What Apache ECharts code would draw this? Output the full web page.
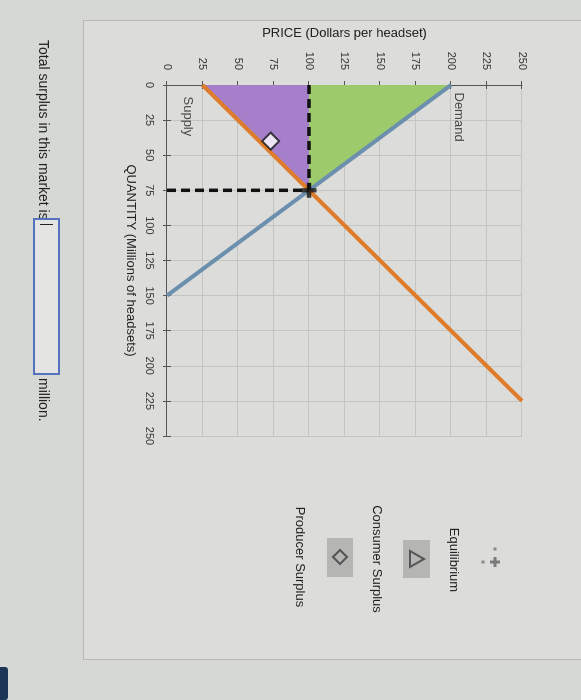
<!DOCTYPE html>
<html>
<head>
<meta charset="utf-8">
<script src="https://cdn.jsdelivr.net/npm/echarts@6/dist/echarts.min.js"></script>
<style>
  html, body { margin:0; padding:0; width:581px; height:700px; overflow:hidden; background:#d6d8d4; font-family:"Liberation Sans", Arial, sans-serif; }
  #wrap { position:absolute; left:0; top:0; width:700px; height:581px; transform-origin:0 0; transform:translate(581px,0) rotate(90deg); }
  #panel { position:absolute; left:20px; top:-10px; width:638px; height:506px; border:1px solid #b9bab6; background:#dcdddA; }
  #chart { position:absolute; left:0; top:0; width:700px; height:581px; }
  #q { position:absolute; left:40px; top:529px; font-size:14px; color:#222; white-space:nowrap; }
  #box { position:absolute; left:218px; top:521px; width:153px; height:23px; border:2px solid #5572c0; background:#e4e5e2; }
  #caret { position:absolute; left:4px; top:5px; width:1px; height:13px; background:#222; }
  #mil { position:absolute; left:378px; top:529px; font-size:14px; color:#222; }
  #tab { position:absolute; left:667px; top:573px; width:33px; height:8px; background:#1d3557; border-radius:3px 3px 0 0; }
</style>
</head>
<body>
<div id="wrap">
  <div id="panel"></div>
  <div id="chart"></div>
  <div id="q">Total surplus in this market is</div>
  <div id="box"><div id="caret"></div></div>
  <div id="mil">million.</div>
  <div id="tab"></div>
</div>
<script>
// ---- data ----
const axisTicks = [0, 25, 50, 75, 100, 125, 150, 175, 200, 225, 250];
const demandQ = [0, 150];
const demandP = [200, 0];
const supplyQ = [0, 225];
const supplyP = [25, 250];
const equilibrium = [75, 100];
const consumerSurplus = [[0, 100], [0, 200], [75, 100]];
const producerSurplus = [[0, 25], [0, 100], [75, 100]];
const diamondPoint = [40, 73];
const legendLabels = ["Equilibrium", "Consumer Surplus", "Producer Surplus"];

const chart = echarts.init(document.getElementById('chart'), null, {renderer:'canvas'});
const FONT = '"Liberation Sans", Arial, sans-serif';
const axisMin = axisTicks[0], axisMax = axisTicks[axisTicks.length - 1];
const step = axisTicks[1] - axisTicks[0];

function polySeries(pts, color) {
  return {
    type: 'custom', z: 1, silent: true, data: [[0, 0]],
    renderItem: (params, api) => ({
      type: 'polygon',
      shape: { points: pts.map(p => api.coord(p)) },
      style: { fill: color }
    })
  };
}

const baseAxis = {
  type: 'value', min: axisMin, max: axisMax, interval: step,
  axisLine: { show: true, lineStyle: { color: '#555', width: 1 } },
  axisTick: { show: true, length: 4, lineStyle: { color: '#555' } },
  splitLine: { show: true, lineStyle: { color: '#c4c5c1', width: 1 } },
  nameTextStyle: { fontFamily: FONT, fontSize: 13, color: '#222' }
};
const innerAxis = {
  type: 'value', min: axisMin, max: axisMax, interval: step,
  axisLine: { show: false },
  axisTick: { show: true, inside: true, length: 4, lineStyle: { color: '#555' } },
  axisLabel: { show: false }, splitLine: { show: false }
};

chart.setOption({
  animation: false,
  grid: { left: 85, right: 264, top: 59, bottom: 167 },
  xAxis: [
    Object.assign({}, baseAxis, {
      position: 'bottom',
      name: 'QUANTITY (Millions of headsets)', nameLocation: 'middle', nameGap: 30,
      axisLabel: { fontFamily: FONT, fontSize: 11, color: '#333', margin: 12 }
    }),
    Object.assign({}, innerAxis, { position: 'bottom' })
  ],
  yAxis: [
    Object.assign({}, baseAxis, {
      position: 'left',
      name: 'PRICE (Dollars per headset)', nameLocation: 'middle', nameGap: 45, nameRotate: 90,
      axisLabel: { fontFamily: FONT, fontSize: 11, color: '#333', margin: 15 }
    }),
    Object.assign({}, innerAxis, { position: 'left' })
  ],
  series: [
    polySeries(consumerSurplus, '#9dcb6c'),
    polySeries(producerSurplus, '#a67fca'),
    {
      type: 'line', z: 3, showSymbol: false, symbol: 'none',
      data: demandQ.map((q, i) => [q, demandP[i]]),
      lineStyle: { color: '#6c8fae', width: 4 }
    },
    {
      type: 'line', z: 3, showSymbol: false, symbol: 'none',
      data: supplyQ.map((q, i) => [q, supplyP[i]]),
      lineStyle: { color: '#de7c2b', width: 4 }
    },
    {
      type: 'line', z: 4, showSymbol: false, symbol: 'none',
      data: [[equilibrium[0], 0], equilibrium],
      lineStyle: { color: '#111', width: 3.5, type: [9, 5] }
    },
    {
      type: 'line', z: 4, showSymbol: false, symbol: 'none',
      data: [[0, equilibrium[1]], equilibrium],
      lineStyle: { color: '#111', width: 3.5, type: [9, 5] }
    },
    {
      type: 'scatter', z: 5, silent: true,
      symbol: 'path://M5,0H9V5H14V9H9V14H5V9H0V5H5Z', symbolSize: 15,
      itemStyle: { color: '#111' },
      data: [equilibrium]
    },
    {
      type: 'scatter', z: 5, silent: true,
      symbol: 'diamond', symbolSize: 17,
      itemStyle: { color: '#ffffff', borderColor: '#111', borderWidth: 2 },
      data: [diamondPoint]
    },
    {
      type: 'scatter', z: 6, silent: true, symbolSize: 1,
      itemStyle: { color: 'rgba(0,0,0,0)' },
      label: { show: true, position: 'right', distance: 0, fontFamily: FONT, fontSize: 13, color: '#222' },
      data: [
        { value: [demandQ[0], demandP[0]], label: { formatter: 'Demand', offset: [7, -8] } },
        { value: [supplyQ[0], supplyP[0]], label: { formatter: 'Supply', offset: [11, 15] } }
      ]
    }
  ],
  graphic: [
    // Equilibrium icon
    { type: 'rect', shape: { x: 557, y: 84.5, width: 10, height: 3 }, style: { fill: '#7a7a7a' } },
    { type: 'rect', shape: { x: 560.5, y: 81, width: 3, height: 10 }, style: { fill: '#7a7a7a' } },
    { type: 'rect', shape: { x: 547.5, y: 84.5, width: 3, height: 3 }, style: { fill: '#8a8a8a' } },
    { type: 'rect', shape: { x: 560.5, y: 96.5, width: 3, height: 3 }, style: { fill: '#8a8a8a' } },
    { type: 'text', style: { text: legendLabels[0], x: 560, y: 127, textAlign: 'center', textVerticalAlign: 'middle', font: '13px ' + FONT, fill: '#222' } },
    // Consumer surplus icon
    { type: 'rect', shape: { x: 540, y: 151, width: 38, height: 27 }, style: { fill: '#b5b6b3' } },
    { type: 'polygon', shape: { points: [[551, 171], [567, 171], [559, 157]] }, style: { fill: 'none', stroke: '#555', lineWidth: 2 } },
    { type: 'text', style: { text: legendLabels[1], x: 559, y: 204, textAlign: 'center', textVerticalAlign: 'middle', font: '13px ' + FONT, fill: '#222' } },
    // Producer surplus icon
    { type: 'rect', shape: { x: 538, y: 228, width: 39, height: 26 }, style: { fill: '#b5b6b3' } },
    { type: 'polygon', shape: { points: [[557, 234], [564, 241], [557, 248], [550, 241]] }, style: { fill: 'none', stroke: '#555', lineWidth: 2 } },
    { type: 'text', style: { text: legendLabels[2], x: 557, y: 281, textAlign: 'center', textVerticalAlign: 'middle', font: '13px ' + FONT, fill: '#222' } }
  ]
});
</script>
</body>
</html>
